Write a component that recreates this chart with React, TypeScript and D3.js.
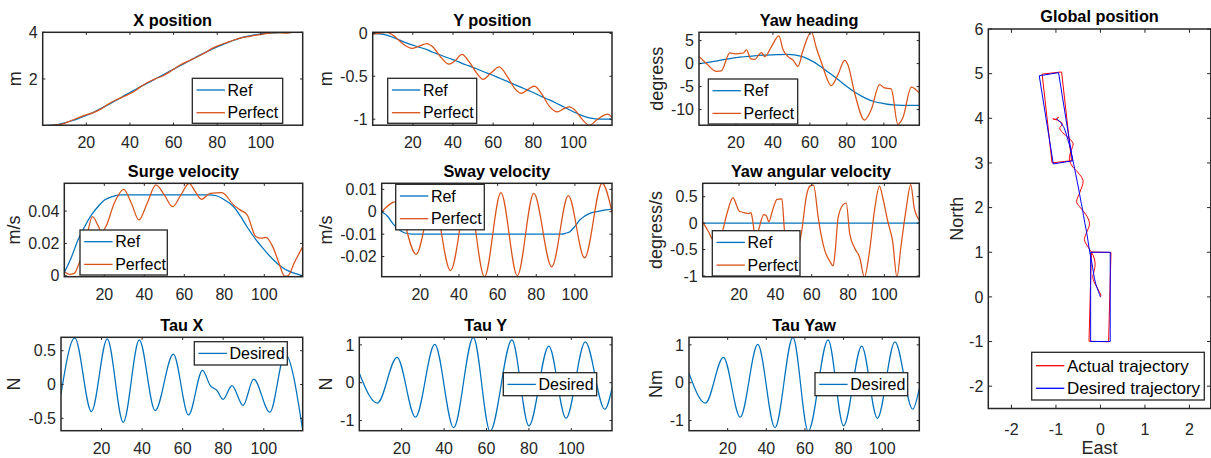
import React, { useEffect, useRef } from "react";
import * as d3 from "d3";

const WIDTH = 1211;
const HEIGHT = 458;
const FONT = "'Liberation Sans', Arial, Helvetica, sans-serif";
const AXIS = "#262626";
const BLUE = "#0072BD";
const ORANGE = "#D95319";
const RED = "#FF0000";
const PURE_BLUE = "#0000FF";

// Shared time axis (s)
const timeDomain = [0, 119.2];
const timeTicks = [20, 40, 60, 80, 100];

// Position log: reference and simulated X (north) / Y (east) positions, m
const posTime = [0, 3, 7, 10, 13, 16, 19.5, 23, 27, 30, 34, 38, 41, 44.5, 48, 52, 55, 59, 63, 67, 71, 74, 77.5, 80.5, 84, 88, 92, 95, 98, 101, 105, 108, 112, 117, 119.2];
const xPosRef = [0, 0.01, 0.05, 0.12, 0.2, 0.29, 0.42, 0.56, 0.75, 0.9, 1.1, 1.32, 1.47, 1.65, 1.82, 2.02, 2.17, 2.37, 2.57, 2.77, 2.97, 3.11, 3.27, 3.4, 3.53, 3.67, 3.79, 3.85, 3.9, 3.94, 3.97, 3.99, 4.0, 4.0, 4.0];
const xPosPerfect = [0, 0, 0.04, 0.1, 0.22, 0.33, 0.45, 0.55, 0.73, 0.92, 1.12, 1.28, 1.42, 1.64, 1.85, 2.02, 2.13, 2.35, 2.6, 2.78, 2.95, 3.1, 3.3, 3.43, 3.55, 3.68, 3.78, 3.83, 3.88, 3.92, 3.98, 3.99, 3.97, 4.02, 4.02];
const yPosRef = [0, -0.005, -0.02, -0.045, -0.075, -0.105, -0.135, -0.16, -0.19, -0.22, -0.255, -0.29, -0.315, -0.35, -0.38, -0.415, -0.445, -0.48, -0.52, -0.56, -0.6, -0.63, -0.665, -0.695, -0.735, -0.775, -0.82, -0.855, -0.89, -0.925, -0.965, -0.985, -0.998, -1.0, -1.0];
const yPosPerfect = [-0.01, 0, 0.01, -0.02, -0.08, -0.14, -0.175, -0.15, -0.12, -0.16, -0.28, -0.36, -0.32, -0.245, -0.33, -0.47, -0.535, -0.46, -0.39, -0.5, -0.65, -0.7, -0.65, -0.615, -0.7, -0.85, -0.915, -0.88, -0.856, -0.9, -1.02, -1.07, -1.0, -0.94, -0.98];

// Heading, degrees
const yawRefTime = [0, 10, 20, 30, 40, 48, 55, 60, 65, 70, 75, 80, 85, 90, 95, 100, 105, 110, 119.2];
const yawRef = [0, 0.6, 1.3, 1.7, 1.9, 2.0, 1.6, 0.8, -0.4, -1.9, -3.4, -5.0, -6.4, -7.5, -8.3, -8.7, -9.0, -9.1, -9.1];
const yawPerfTime = [0, 4, 9.5, 12, 16.7, 19.4, 22, 24, 25.7, 28, 30, 33.8, 35.6, 39.2, 43.2, 45.5, 48.2, 51, 53.6, 56, 60.8, 63.5, 66.2, 71.6, 75.2, 78.8, 80.6, 84.2, 89.6, 93.2, 97.7, 100.4, 104, 107.6, 110.3, 114.9, 119.2];
const yawPerfect = [1.55, 0, -1.7, -1.6, 2.3, 2.1, 2.2, 2.3, 3.0, 1.0, 0.9, 2.4, 1.5, 3.7, 6.0, 3.0, 1.5, 0.7, -0.6, 2.5, 6.9, 3.4, 0.3, -4.8, -2.4, 0.7, -0.3, -6.4, -12.3, -10.0, -4.6, -5.3, -5.5, -13.2, -11.8, -5.1, -6.4];

// Surge velocity, m/s
const surgeRefTime = [0, 3.4, 6.8, 10, 13.6, 17, 20.3, 24, 28, 72, 76, 80, 84.7, 88, 91.5, 96, 100, 104, 108.5, 112, 115.3, 119.2];
const surgeRef = [0.002, 0.011, 0.022, 0.03, 0.0376, 0.043, 0.047, 0.049, 0.05, 0.05, 0.0495, 0.047, 0.0427, 0.037, 0.03, 0.022, 0.016, 0.0105, 0.0056, 0.003, 0.0015, 0];
const surgePerfTime = [0, 2.5, 5, 7.5, 10.2, 14.1, 16.9, 18.6, 21, 25, 29.7, 33.5, 37.3, 41.5, 45.8, 50, 54.2, 58.3, 62.4, 65.5, 68.6, 72.9, 78.8, 84.7, 88.1, 91.5, 95.8, 98.5, 100.8, 104.2, 107, 110.2, 111.9, 115, 119.2];
const surgePerfect = [0.0025, 0.0009, 0.0015, 0.008, 0.018, 0.0365, 0.031, 0.027, 0.031, 0.045, 0.0535, 0.045, 0.0345, 0.045, 0.0562, 0.05, 0.0427, 0.05, 0.0572, 0.052, 0.0473, 0.051, 0.0514, 0.0437, 0.0406, 0.0375, 0.0241, 0.0232, 0.0237, 0.018, 0.009, -0.0003, 0, 0.008, 0.018];

// Sway velocity, m/s
const swayRefTime = [0, 3, 6, 9, 12, 15.7, 93, 95.5, 97.4, 100, 102.5, 105, 107.7, 112.8, 116, 119.2];
const swayRef = [0, -0.002, -0.0055, -0.008, -0.0095, -0.01, -0.01, -0.0095, -0.0089, -0.0065, -0.0037, -0.002, -0.0007, 0.0003, 0.0008, 0.0012];
const swayPerfTime = [0, 7.5, 17.8, 26.5, 35.6, 44.7, 53.2, 61.7, 70.2, 78.7, 88, 96.6, 105, 114.1, 119.2];
const swayPerfect = [0, 0.0045, -0.019, 0.006, -0.0263, 0.008, -0.029, 0.0085, -0.0285, 0.0082, -0.0246, 0.0072, -0.0206, 0.0127, 0];

// Yaw angular velocity, degrees/s
const yawRateRefTime = [0, 119.2];
const yawRateRef = [0, 0];
const yawRatePerfTime = [0, 3, 5.5, 8, 10.9, 13.5, 16.7, 18.5, 20, 22.7, 25.5, 26.5, 27.3, 28.5, 29.5, 31, 33.6, 35, 36.4, 38.5, 40.9, 43.6, 45, 47, 50, 53, 54.5, 57, 59, 61, 63.6, 65.5, 67.3, 70, 71.8, 73, 74.5, 77.3, 79, 80.9, 83.6, 86.4, 89, 91.8, 94.5, 97.3, 99.1, 101.8, 104.5, 106.9, 109, 111.8, 114.5, 116.4, 119.2];
const yawRatePerfect = [0.02, -0.15, -0.31, -0.35, -0.15, 0.2, 0.48, 0.35, 0.23, 0.2, 0.18, 0.2, 0.1, -0.2, -0.3, -0.1, 0.16, 0.14, 0.025, 0.25, 0.45, 0.46, -0.15, -0.5, -0.6, -0.4, -0.15, 0.5, 0.7, 0.72, 0.1, -0.28, -0.53, -0.72, -0.81, -0.5, 0.1, 0.35, 0.38, -0.2, -0.47, -0.65, -1.02, -0.53, 0.23, 0.7, 0.48, 0.04, -0.34, -1.02, -0.47, 0.23, 0.73, 0.29, 0.06];

// Desired control forces / moment
const tauXTime = [0, 6.8, 15, 22.8, 30.7, 38.6, 46.4, 55.4, 62.9, 69.8, 73.6, 76.9, 79.9, 84.3, 89.8, 95, 103, 110.5, 119.2];
const tauX = [-0.14, 0.69, -0.4, 0.676, -0.56, 0.66, -0.385, 0.45, -0.45, 0.21, -0.015, -0.087, -0.22, -0.015, -0.31, 0.08, -0.41, 0.45, -0.68];
const tauYTime = [0, 8.5, 17.8, 26.5, 35.6, 44.5, 53.8, 61.7, 72, 80, 89.4, 97.5, 106.6, 115.8, 119.2];
const tauY = [0.25, -0.54, 0.67, -0.91, 1.01, -1.19, 1.2, -1.28, 1.13, -1.14, 0.97, -0.94, 1.08, -0.7, -0.15];
const tauYawTime = [0, 8.5, 17.8, 26.5, 35.6, 44.5, 53.8, 61.7, 72, 80, 89.4, 97.5, 106.6, 115.8, 119.2];
const tauYaw = [0.25, -0.54, 0.67, -0.91, 1.01, -1.19, 1.2, -1.28, 1.13, -1.14, 0.97, -0.94, 1.08, -0.7, -0.15];

// Vessel outline used on the map
const HULL_LENGTH = 2;
const HULL_BEAM = 0.44;

type Series = { name: string; t: number[]; v: number[]; color: string };
type Panel = {
  title: string;
  ylabel: string;
  box: [number, number, number, number];
  yDomain: [number, number];
  yTicks: number[];
  series: Series[];
  legend: [number, number, number, number];
};

const panels: Panel[] = [
  {
    title: "X position", ylabel: "m", box: [42.7, 32.3, 302.7, 125.2], yDomain: [0.02, 4.0], yTicks: [2, 4],
    series: [
      { name: "Ref", t: posTime, v: xPosRef, color: BLUE },
      { name: "Perfect", t: posTime, v: xPosPerfect, color: ORANGE },
    ],
    legend: [192.3, 78.3, 90.4, 45],
  },
  {
    title: "Y position", ylabel: "m", box: [372.7, 32.3, 612, 125.2], yDomain: [-1.07, 0.012], yTicks: [-1, -0.5, 0],
    series: [
      { name: "Ref", t: posTime, v: yPosRef, color: BLUE },
      { name: "Perfect", t: posTime, v: yPosPerfect, color: ORANGE },
    ],
    legend: [387.7, 78.3, 89, 45],
  },
  {
    title: "Yaw heading", ylabel: "degress", box: [699, 32.3, 919.3, 125.2], yDomain: [-13.4, 6.8], yTicks: [-10, -5, 0, 5],
    series: [
      { name: "Ref", t: yawRefTime, v: yawRef, color: BLUE },
      { name: "Perfect", t: yawPerfTime, v: yawPerfect, color: ORANGE },
    ],
    legend: [708.3, 79, 89.4, 45],
  },
  {
    title: "Surge velocity", ylabel: "m/s", box: [64.3, 183.3, 302.7, 276.7], yDomain: [-0.0006, 0.0572], yTicks: [0, 0.02, 0.04],
    series: [
      { name: "Ref", t: surgeRefTime, v: surgeRef, color: BLUE },
      { name: "Perfect", t: surgePerfTime, v: surgePerfect, color: ORANGE },
    ],
    legend: [80, 230, 87.3, 45],
  },
  {
    title: "Sway velocity", ylabel: "m/s", box: [381.7, 183.3, 612, 276.7], yDomain: [-0.029, 0.0127], yTicks: [-0.02, -0.01, 0, 0.01],
    series: [
      { name: "Ref", t: swayRefTime, v: swayRef, color: BLUE },
      { name: "Perfect", t: swayPerfTime, v: swayPerfect, color: ORANGE },
    ],
    legend: [395.7, 184.3, 88.6, 45.5],
  },
  {
    title: "Yaw angular velocity", ylabel: "degress/s", box: [702.7, 183.3, 919.3, 276.7], yDomain: [-1.013, 0.753], yTicks: [-1, -0.5, 0, 0.5],
    series: [
      { name: "Ref", t: yawRateRefTime, v: yawRateRef, color: BLUE },
      { name: "Perfect", t: yawRatePerfTime, v: yawRatePerfect, color: ORANGE },
    ],
    legend: [712.3, 230.7, 87.7, 45.3],
  },
  {
    title: "Tau X", ylabel: "N", box: [61, 337.3, 302.7, 430.7], yDomain: [-0.683, 0.698], yTicks: [-0.5, 0, 0.5],
    series: [{ name: "Desired", t: tauXTime, v: tauX, color: BLUE }],
    legend: [194.3, 341.7, 93, 23.3],
  },
  {
    title: "Tau Y", ylabel: "N", box: [359.3, 337.3, 612, 430.7], yDomain: [-1.268, 1.2], yTicks: [-1, 0, 1],
    series: [{ name: "Desired", t: tauYTime, v: tauY, color: BLUE }],
    legend: [503.3, 372.7, 93.4, 23],
  },
  {
    title: "Tau Yaw", ylabel: "Nm", box: [689, 337.3, 919.3, 430.7], yDomain: [-1.268, 1.2], yTicks: [-1, 0, 1],
    series: [{ name: "Desired", t: tauYawTime, v: tauYaw, color: BLUE }],
    legend: [815, 372.7, 92.7, 23],
  },
];

type Sel = d3.Selection<any, unknown, null, undefined>;

function drawFrame(g: Sel, l: number, t: number, r: number, b: number, xs: any, ys: any, xTicks: number[], yTicks: number[], tickLen: number) {
  const tickG = g.append("g").attr("stroke", AXIS).attr("stroke-width", 1);
  xTicks.forEach((v) => {
    const px = xs(v);
    tickG.append("line").attr("x1", px).attr("x2", px).attr("y1", b).attr("y2", b - tickLen);
    tickG.append("line").attr("x1", px).attr("x2", px).attr("y1", t).attr("y2", t + tickLen);
  });
  yTicks.forEach((v) => {
    const py = ys(v);
    tickG.append("line").attr("x1", l).attr("x2", l + tickLen).attr("y1", py).attr("y2", py);
    tickG.append("line").attr("x1", r).attr("x2", r - tickLen).attr("y1", py).attr("y2", py);
  });
  g.append("rect")
    .attr("x", l).attr("y", t).attr("width", r - l).attr("height", b - t)
    .attr("fill", "none").attr("stroke", AXIS).attr("stroke-width", 1.5);
}

function drawTickLabels(g: Sel, l: number, b: number, xs: any, ys: any, xTicks: number[], yTicks: number[], xGap: number) {
  const xl = g.append("g").attr("font-family", FONT).attr("font-size", 16).attr("fill", AXIS).attr("text-anchor", "middle");
  xTicks.forEach((v) => xl.append("text").attr("x", xs(v)).attr("y", b + xGap).text(String(v)));
  const yl = g.append("g").attr("font-family", FONT).attr("font-size", 16).attr("fill", AXIS).attr("text-anchor", "end");
  yTicks.forEach((v) => yl.append("text").attr("x", l - 5).attr("y", ys(v) + 5.7).text(String(v)));
  const node = yl.node() as SVGGElement;
  return node.getBBox().width;
}

function drawYLabel(g: Sel, text: string, x: number, cy: number) {
  g.append("text")
    .attr("transform", `translate(${x},${cy}) rotate(-90)`)
    .attr("text-anchor", "middle")
    .attr("font-family", FONT).attr("font-size", 18).attr("fill", AXIS)
    .text(text);
}

function drawTitle(g: Sel, text: string, cx: number, top: number) {
  g.append("text")
    .attr("x", cx).attr("y", top - 6.6)
    .attr("text-anchor", "middle")
    .attr("font-family", FONT).attr("font-size", 16.3).attr("font-weight", "bold").attr("fill", "#000")
    .text(text);
}

function drawLegend(g: Sel, rect: [number, number, number, number], entries: { name: string; color: string }[], firstRow: number, rowStep: number, fontSize: number) {
  const [lx, ly, lw, lh] = rect;
  const lg = g.append("g");
  lg.append("rect").attr("x", lx).attr("y", ly).attr("width", lw).attr("height", lh)
    .attr("fill", "#fff").attr("stroke", AXIS).attr("stroke-width", 1.3);
  entries.forEach((e, i) => {
    const cy = ly + firstRow + i * rowStep;
    lg.append("line").attr("x1", lx + 4.2).attr("x2", lx + 32.6).attr("y1", cy).attr("y2", cy)
      .attr("stroke", e.color).attr("stroke-width", 1.3);
    lg.append("text").attr("x", lx + 35.2).attr("y", cy + fontSize * 0.36)
      .attr("font-family", FONT).attr("font-size", fontSize).attr("fill", "#000")
      .text(e.name);
  });
}

function drawTimePanel(svg: Sel, p: Panel, idx: number) {
  const [l, t, r, b] = p.box;
  const xs = d3.scaleLinear().domain(timeDomain).range([l, r]);
  const ys = d3.scaleLinear().domain(p.yDomain).range([b, t]);
  const g = svg.append("g");
  const clipId = `panel-clip-${idx}`;
  g.append("clipPath").attr("id", clipId)
    .append("rect").attr("x", l).attr("y", t).attr("width", r - l).attr("height", b - t);
  g.append("rect").attr("x", l).attr("y", t).attr("width", r - l).attr("height", b - t).attr("fill", "#fff");

  const plot = g.append("g").attr("clip-path", `url(#${clipId})`);
  p.series.forEach((s) => {
    const line = d3.line<number>()
      .x((_, i) => xs(s.t[i]))
      .y((d) => ys(d))
      .curve(d3.curveMonotoneX);
    plot.append("path").attr("d", line(s.v) as string)
      .attr("fill", "none").attr("stroke", s.color).attr("stroke-width", 1.25)
      .attr("stroke-linejoin", "round");
  });

  drawFrame(g, l, t, r, b, xs, ys, timeTicks, p.yTicks, 2.6);
  const tickW = drawTickLabels(g, l, b, xs, ys, timeTicks, p.yTicks, 23);
  drawYLabel(g, p.ylabel, l - 5 - tickW - 8, (t + b) / 2);
  drawTitle(g, p.title, (l + r) / 2, t);
  drawLegend(g, p.legend, p.series, 11.7, 22.7, 16);
}

function hullOutline(north: number, east: number, headingDeg: number): [number, number][] {
  const psi = (headingDeg * Math.PI) / 180;
  const c = Math.cos(psi);
  const s = Math.sin(psi);
  const corners = [
    [HULL_LENGTH / 2, -HULL_BEAM / 2],
    [HULL_LENGTH / 2, HULL_BEAM / 2],
    [-HULL_LENGTH / 2, HULL_BEAM / 2],
    [-HULL_LENGTH / 2, -HULL_BEAM / 2],
    [HULL_LENGTH / 2, -HULL_BEAM / 2],
  ];
  return corners.map(([bx, by]) => [east + bx * s + by * c, north + bx * c - by * s]);
}

function drawGlobal(svg: Sel) {
  const l = 988.3, t = 29, r = 1210.8, b = 408.5;
  const xs = d3.scaleLinear().domain([-2.52, 2.48]).range([l, r]);
  const ys = d3.scaleLinear().domain([-2.5, 6]).range([b, t]);
  const xTicks = [-2, -1, 0, 1, 2];
  const yTicks = [-2, -1, 0, 1, 2, 3, 4, 5, 6];
  const g = svg.append("g");
  g.append("clipPath").attr("id", "map-clip")
    .append("rect").attr("x", l).attr("y", t).attr("width", r - l).attr("height", b - t);
  g.append("rect").attr("x", l).attr("y", t).attr("width", r - l).attr("height", b - t).attr("fill", "#fff");
  const plot = g.append("g").attr("clip-path", "url(#map-clip)");

  const path = d3.line<[number, number]>()
    .x((d) => xs(d[0]))
    .y((d) => ys(d[1]))
    .curve(d3.curveCatmullRom.alpha(0.5));
  const poly = d3.line<[number, number]>().x((d) => xs(d[0])).y((d) => ys(d[1]));

  const tracks = [
    { color: RED, north: xPosPerfect, east: yPosPerfect, yaw: yawPerfect },
    { color: PURE_BLUE, north: xPosRef, east: yPosRef, yaw: yawRef },
  ];
  tracks.forEach((tr) => {
    const pts: [number, number][] = tr.north.map((n, i) => [tr.east[i], n]);
    plot.append("path").attr("d", path(pts) as string)
      .attr("fill", "none").attr("stroke", tr.color).attr("stroke-width", 1);
    const last = tr.north.length - 1;
    const poses = [
      [tr.north[0], tr.east[0], tr.yaw[0]],
      [tr.north[last], tr.east[last], tr.yaw[tr.yaw.length - 1]],
    ];
    poses.forEach(([n, e, h]) => {
      plot.append("path").attr("d", poly(hullOutline(n, e, h)) as string)
        .attr("fill", "none").attr("stroke", tr.color).attr("stroke-width", 1);
    });
  });

  drawFrame(g, l, t, r, b, xs, ys, xTicks, yTicks, 3.8);
  const tickW = drawTickLabels(g, l, b, xs, ys, xTicks, yTicks, 26.5);
  drawYLabel(g, "North", l - 5 - tickW - 6, (t + b) / 2);
  g.append("text")
    .attr("x", (l + r) / 2).attr("y", 454)
    .attr("text-anchor", "middle")
    .attr("font-family", FONT).attr("font-size", 18).attr("fill", AXIS)
    .text("East");
  drawTitle(g, "Global position", (l + r) / 2, t);
  drawLegend(g, [1031.7, 352.3, 172.6, 47.7], [
    { name: "Actual trajectory", color: RED },
    { name: "Desired trajectory", color: PURE_BLUE },
  ], 13.4, 22.6, 17);
}

export default function App() {
  const ref = useRef<SVGSVGElement>(null);
  useEffect(() => {
    document.body.style.margin = "0";
    const svg = d3.select(ref.current as SVGSVGElement) as unknown as Sel;
    svg.selectAll("*").remove();
    panels.forEach((p, i) => drawTimePanel(svg, p, i));
    drawGlobal(svg);
  }, []);
  return (
    <svg
      ref={ref}
      width={WIDTH}
      height={HEIGHT}
      style={{ display: "block", position: "absolute", left: 0, top: 0, background: "#fff" }}
    />
  );
}
